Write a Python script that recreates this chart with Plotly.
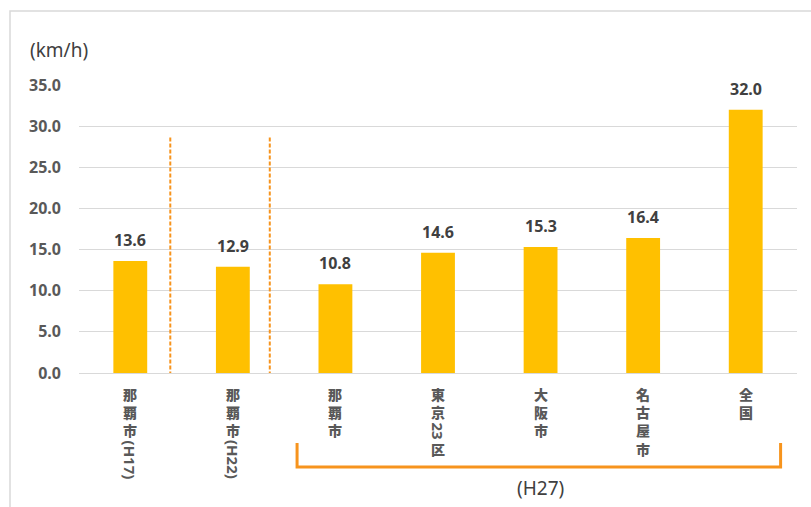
import plotly.graph_objects as go

# ---- data ----
categories = ["那覇市(H17)", "那覇市(H22)", "那覇市", "東京23区", "大阪市", "名古屋市", "全国"]
values = [13.6, 12.9, 10.8, 14.6, 15.3, 16.4, 32.0]
# label segments: (text, rotated?)
label_segments = [
    [("那覇市", False), ("(H17)", True)],
    [("那覇市", False), ("(H22)", True)],
    [("那覇市", False)],
    [("東京", False), ("23", True), ("区", False)],
    [("大阪市", False)],
    [("名古屋市", False)],
    [("全国", False)],
]
y_ticks = [0, 5, 10, 15, 20, 25, 30, 35]
unit_label = "(km/h)"
group_label = "(H27)"

W, H = 811, 507
ML, MR, MT, MB = 79, 14, 85, 134
PH = H - MT - MB
BAR = "#FFC000"
ORANGE = "#F7941D"
TXT = "#595959"

fig = go.Figure()
x_idx = list(range(len(categories)))
fig.add_trace(go.Bar(x=x_idx, y=values, marker=dict(color=BAR, line=dict(width=0)),
                     hoverinfo="skip", showlegend=False))

ann = []
# value labels
for i, v in enumerate(values):
    ann.append(dict(x=i, y=v, xref="x", yref="y", text=f"{v:.1f}", showarrow=False,
                    yanchor="bottom", yshift=8,
                    font=dict(family="Noto Sans", size=16, color="#404040", weight="bold")))

# category labels (vertical)
def rot_width(s):
    w = 0
    for c in s:
        if c in "()":
            w += 5.5
        elif c == "H":
            w += 11.5
        else:
            w += 9
    return w

FS = 14
pitch = FS * 1.3
start = 385  # pixel top of first char
base = H - MB
for i, segs in enumerate(label_segments):
    cur = start
    for text, rot in segs:
        if rot:
            w = rot_width(text)
            c = cur + w / 2
            ann.append(dict(x=i, y=0, xref="x", yref="paper", text=text, showarrow=False,
                            textangle=90, yanchor="middle", yshift=-(c - base),
                            borderpad=0,
                            font=dict(family="Noto Sans", size=15, color=TXT, weight="bold")))
            cur += w
        else:
            n = len(text)
            c = cur + n * pitch / 2
            ann.append(dict(x=i, y=0, xref="x", yref="paper", text="<br>".join(text),
                            showarrow=False, yanchor="middle", yshift=-(c - base),
                            borderpad=0,
                            font=dict(family="Noto Sans CJK JP", size=FS, color=TXT, weight=900)))
            cur += n * pitch

def px_to_paper_y(py):
    return (H - MB - py) / PH

# unit label
ann.append(dict(x=-(ML - 59) / (W - ML - MR), y=px_to_paper_y(50), xref="paper", yref="paper",
                text=unit_label, showarrow=False, xanchor="center", yanchor="middle",
                font=dict(family="Noto Sans", size=19, color="#404040")))
# group label
ann.append(dict(x=4, y=px_to_paper_y(488), xref="x", yref="paper", text=group_label,
                showarrow=False, yanchor="middle",
                font=dict(family="Noto Sans", size=19, color="#404040")))

shapes = []
# dashed separators
for xs in [0.39, 1.36]:
    shapes.append(dict(type="line", xref="x", yref="y", x0=xs, x1=xs, y0=-0.3, y1=28.7,
                       line=dict(color=ORANGE, width=2, dash="4px,2px")))
# bracket
yb0, yb1 = px_to_paper_y(443), px_to_paper_y(467)
shapes.append(dict(type="path", xref="x", yref="paper",
                   path=f"M 1.626 {yb0} L 1.626 {yb1} L 6.34 {yb1} L 6.34 {yb0}",
                   line=dict(color=ORANGE, width=3)))
# outer border
PW = W - ML - MR
bx0 = (10 - ML) / PW
by1 = px_to_paper_y(11)
shapes.append(dict(type="path", xref="paper", yref="paper",
                   path=f"M {bx0} {px_to_paper_y(520)} L {bx0} {by1} L {(830 - ML) / PW} {by1}",
                   line=dict(color="#d9d9d9", width=1.5)))

fig.update_layout(
    width=W, height=H,
    margin=dict(l=ML, r=MR, t=MT, b=MB),
    paper_bgcolor="white", plot_bgcolor="white",
    bargap=0.67,
    xaxis=dict(range=[-0.5, len(categories) - 0.5], showticklabels=False, showgrid=False,
               zeroline=False, showline=False, ticks="", fixedrange=True),
    yaxis=dict(range=[0, 35], tickvals=y_ticks, ticktext=[f"{t:.1f}" for t in y_ticks],
               showgrid=True, gridcolor="#d9d9d9", gridwidth=1, zeroline=True,
               zerolinecolor="#d9d9d9", zerolinewidth=1, showline=False, ticks="",
               ticklabelstandoff=17,
               tickfont=dict(family="Noto Sans", size=16, color=TXT, weight="bold")),
    annotations=ann, shapes=shapes,
    font=dict(family="Noto Sans, Noto Sans CJK JP"),
)

fig.write_html("out.html")
